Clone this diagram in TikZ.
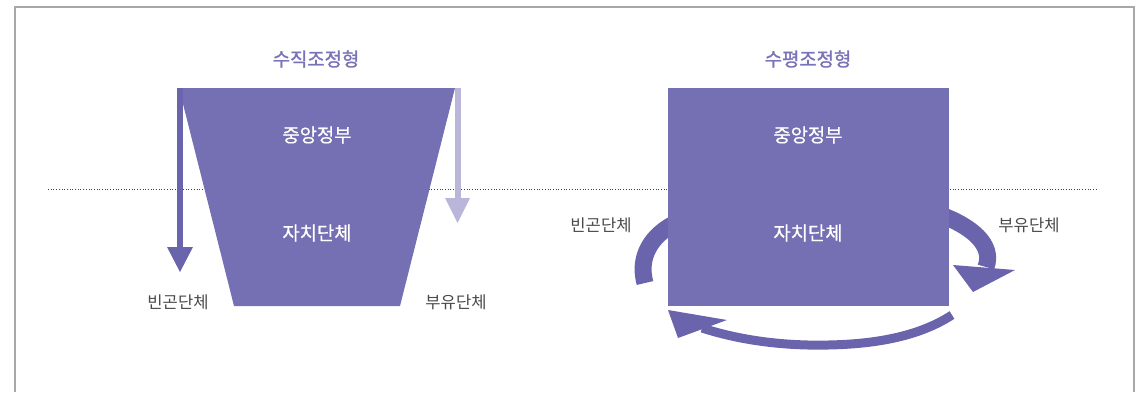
\documentclass[tikz,border=0pt]{standalone}
\usepackage{fontspec}
\newfontfamily\kr{Noto Sans CJK KR}
\newfontfamily\krm{Noto Sans CJK KR}[FakeBold=0.5]
\newfontfamily\krb{Noto Sans CJK KR}[FakeBold=1.3]
\definecolor{boxc}{HTML}{7470B3}
\definecolor{arrc}{HTML}{6964AC}
\definecolor{lightc}{HTML}{B9B6DA}
\definecolor{titc}{HTML}{7873B8}
\definecolor{labc}{HTML}{4A4A4A}
\definecolor{framec}{HTML}{A8A8A8}
\begin{document}
\begin{tikzpicture}[x=1pt,y=-1pt,
  title/.style={font=\krb\fontsize{18.8}{18.8}\selectfont, text=titc, inner sep=0pt},
  intext/.style={font=\krm\fontsize{18.8}{18.8}\selectfont, text=white, inner sep=0pt},
  lab/.style={font=\kr\fontsize{16.6}{16.6}\selectfont, text=labc, inner sep=0pt},
  frameline/.style={draw=framec, line width=1.5pt},
  guide/.style={draw=black!75, dotted, line width=0.7pt},
  shaft/.style={line width=#1, line cap=butt}
]
\useasboundingbox (0,0) rectangle (1147,392);
% frame (open at bottom)
\draw[frameline] (15,392) -- (15,7) -- (1134,7) -- (1134,392);
% dotted guide
\coordinate (gl) at (48,189);
\coordinate (gr) at (1097,189);
\draw[guide] (gl) -- (gr);

% ---------- left: vertical type ----------
\node[title] (t1) at (316,59) {수직조정형};
\fill[boxc] (179,88) -- (455,88) -- (400,306) -- (234,306) -- cycle;
\node[intext] (c1) at (317,135) {중앙정부};
\node[intext] (l1) at (317,233) {자치단체};
% left dark arrow
\coordinate (a1s) at (180,88);
\coordinate (a1e) at (180,248);
\draw[arrc, shaft=6pt] (a1s) -- (a1e);
\fill[arrc] (167,247) -- (193,247) -- (180,272) -- cycle;
% right light arrow
\coordinate (a2s) at (457.5,88);
\coordinate (a2e) at (457.5,199);
\draw[lightc, shaft=6pt] (a2s) -- (a2e);
\fill[lightc] (445,198) -- (470,198) -- (457.5,223) -- cycle;
\node[lab] (p1) at (178,302) {빈곤단체};
\node[lab] (r1) at (456,302) {부유단체};

% ---------- right: horizontal type ----------
\node[title] (t2) at (808,59) {수평조정형};
% curved arrows (behind box)
\draw[arrc, shaft=17pt] (680,221) .. controls (650,234) and (638,258) .. (645,283);
\draw[arrc, shaft=17pt] (938,214) .. controls (972,226) and (994,245) .. (986,267);
\fill[arrc] (953,265) -- (1015,270) -- (973,292) -- cycle;
\draw[arrc, shaft=9pt] (952,315) .. controls (915,339) and (865,346) .. (808,345)
      .. controls (765,344) and (730,337) .. (702,328);
\fill[arrc] (668,310) -- (727,320) -- (678,338) -- cycle;
\node[fill=boxc, minimum width=281pt, minimum height=218pt, inner sep=0pt] (box) at (808.5,197) {};
\node[intext] (c2) at (808,135) {중앙정부};
\node[intext] (l2) at (808,233) {자치단체};
\node[lab] (p2) at (601,225) {빈곤단체};
\node[lab] (r2) at (1029,225) {부유단체};
\end{tikzpicture}
\end{document}
